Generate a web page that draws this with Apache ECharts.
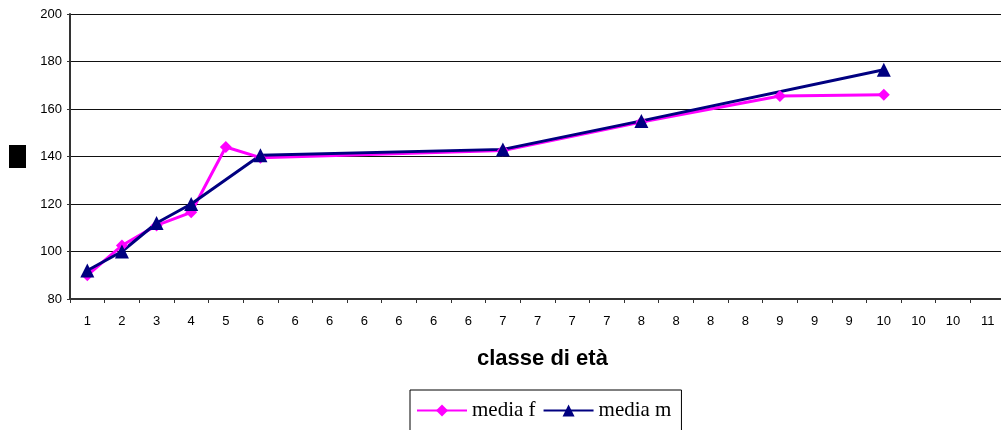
<!DOCTYPE html>
<html>
<head>
<meta charset="utf-8">
<script src="https://cdn.jsdelivr.net/npm/echarts@6/dist/echarts.min.js"></script>
<style>html,body{margin:0;padding:0;background:#fff;}#c{width:1001px;height:430px;}</style>
</head>
<body>
<div id="c"></div>
<script>
const categories = ['1','2','3','4','5','6','6','6','6','6','6','6','7','7','7','7','8','8','8','8','9','9','9','10','10','10','11'];
const mediaF = [90, 102.5, 111, 116.5, 144, 139.5, null, null, null, null, null, null, 142.5, null, null, null, 154.5, null, null, null, 165.5, null, null, 166, null, null, null];
const mediaM = [92, 100, 112, 120, null, 140.5, null, null, null, null, null, null, 143, null, null, null, 155, null, null, null, null, null, null, 176.5, null, null, null];
const yTicks = {min: 80, max: 200, interval: 20};
const xTitle = 'classe di età';

const chart = echarts.init(document.getElementById('c'), null, {renderer: 'canvas'});
chart.setOption({
  animation: false,
  backgroundColor: '#fff',
  grid: {left: 70, top: 14, width: 935, bottom: 131, containLabel: false, outerBoundsMode: 'none'},
  xAxis: {
    type: 'category',
    data: categories,
    boundaryGap: true,
    axisLine: {lineStyle: {color: '#333', width: 2}},
    axisTick: {show: true, length: 4, alignWithLabel: false, lineStyle: {color: '#333'}},
    axisLabel: {interval: 0, color: '#000', fontFamily: 'Arial, Liberation Sans', fontSize: 13, margin: 16, hideOverlap: false},
    splitLine: {show: false}
  },
  yAxis: {
    type: 'value',
    min: yTicks.min, max: yTicks.max, interval: yTicks.interval,
    axisLine: {show: true, lineStyle: {color: '#333', width: 2}},
    axisTick: {show: true, length: 3, lineStyle: {color: '#333'}},
    axisLabel: {color: '#000', fontFamily: 'Arial, Liberation Sans', fontSize: 13, margin: 8},
    splitLine: {show: true, lineStyle: {color: '#111', width: 1}}
  },
  legend: {
    left: 410, top: 390,
    padding: [10, 10, 14, 6],
    borderColor: '#000', borderWidth: 1,
    itemWidth: 50, itemHeight: 15, itemGap: 7,
    textStyle: {fontFamily: 'Liberation Serif, Times New Roman, serif', fontSize: 21, color: '#000'},
    data: ['media f', 'media m']
  },
  graphic: [
    {type: 'rect', left: 9, top: 145, shape: {width: 17, height: 23}, style: {fill: '#000'}},
    {type: 'text', left: 477, top: 348,
     style: {text: xTitle, fontFamily: 'Arial, Liberation Sans', fontWeight: 'bold', fontSize: 22, fill: '#000'}}
  ],
  series: [
    {
      name: 'media f', type: 'line', data: mediaF, connectNulls: true,
      symbol: 'diamond', symbolSize: 12, showAllSymbol: true,
      lineStyle: {color: '#FF00FF', width: 3},
      itemStyle: {color: '#FF00FF'}
    },
    {
      name: 'media m', type: 'line', data: mediaM, connectNulls: true,
      symbol: 'triangle', symbolSize: 14, showAllSymbol: true,
      lineStyle: {color: '#000080', width: 3},
      itemStyle: {color: '#000080'}
    }
  ]
});
</script>
</body>
</html>
